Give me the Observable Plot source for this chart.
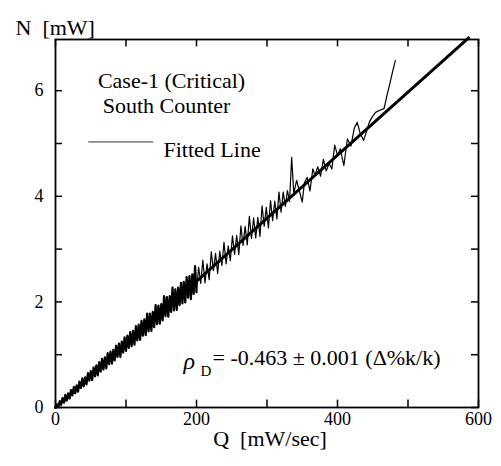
<!DOCTYPE html>
<html>
<head>
<meta charset="utf-8">
<script src="https://cdn.jsdelivr.net/npm/d3@7"></script>
<script src="https://cdn.jsdelivr.net/npm/@observablehq/plot@0.6"></script>
<style>
  html, body { margin: 0; padding: 0; background: #fff; }
  #chart svg { display: block; font-family: "Liberation Serif", "Times New Roman", serif !important; }
  #chart svg text { font-family: "Liberation Serif", "Times New Roman", serif !important; fill: #000; }
</style>
</head>
<body>
<div id="chart"></div>
<script>
// Measured N vs Q samples [Q (mW/sec), N (mW)]
const samples = [
  [0,0.00],[2,0.06],[4,0.01],[6,0.12],[8,0.05],[10,0.18],[12,0.09],[14,0.24],[16,0.13],[18,0.27],
  [20,0.17],[22,0.33],[24,0.23],[26,0.39],[28,0.27],[30,0.42],[32,0.30],[34,0.49],[36,0.37],[38,0.55],
  [40,0.40],[42,0.57],[44,0.44],[46,0.65],[48,0.51],[50,0.69],[52,0.52],[54,0.76],[56,0.59],[58,0.80],
  [60,0.61],[62,0.86],[64,0.68],[66,0.92],[68,0.72],[70,0.95],[72,0.74],[74,1.03],[76,0.82],[78,1.06],
  [80,0.83],[82,1.09],[84,0.89],[86,1.17],[88,0.96],[90,1.21],[92,0.96],[94,1.25],[96,1.04],[98,1.33],
  [100,1.07],[102,1.36],[104,1.13],[106,1.43],[108,1.16],[110,1.45],[112,1.19],[114,1.54],[116,1.27],[118,1.57],
  [120,1.28],[122,1.64],[124,1.36],[126,1.67],[128,1.37],[130,1.78],[132,1.44],[134,1.78],[136,1.45],[138,1.81],
  [140,1.52],[142,1.94],[144,1.58],[146,1.93],[148,1.59],[150,1.96],[152,1.65],[154,2.11],[156,1.73],[158,2.09],
  [160,1.72],[162,2.11],[164,1.81],[166,2.27],[168,1.84],[170,2.24],[172,1.85],[174,2.27],[176,1.94],[178,2.36],
  [180,1.97],[182,2.38],[184,1.99],[186,2.47],[188,2.08],[190,2.49],[192,2.05],[194,2.52],[196,2.15],[198,2.68],
  [200,2.18],[203,2.66],[206,2.35],[209,2.79],[212,2.36],[215,2.72],[218,2.42],[221,2.95],[224,2.59],[227,2.92],
  [230,2.54],[233,2.96],[236,2.69],[239,3.13],[242,2.72],[245,3.06],[248,2.78],[251,3.25],[254,2.90],[257,3.26],
  [260,2.90],[263,3.44],[266,3.07],[269,3.43],[272,3.08],[275,3.62],[278,3.20],[281,3.59],[284,3.21],[287,3.60],
  [290,3.24],[293,3.82],[296,3.43],[299,3.79],[302,3.40],[305,3.92],[308,3.54],[311,3.91],[314,3.57],[317,4.08],
  [320,3.70],[323,4.08],[326,3.81],[329,4.11],[332,3.90],[335,4.74],[338,4.05],[342,4.30],[346,4.10],[350,3.89],
  [353,4.25],[357,4.36],[361,4.10],[365,4.52],[368,4.40],[372,4.56],[376,4.38],[380,4.70],[384,4.48],[388,4.62],
  [392,4.52],[396,4.97],[400,4.78],[404,4.90],[409,4.58],[414,5.09],[419,4.95],[424,5.30],[428,5.40],[432,5.20],
  [437,5.06],[441,5.22],[445,5.40],[449,5.50],[454,5.59],[460,5.63],[466,5.66],[470,5.90],[474,6.12],[478,6.35],
  [482,6.57]
];
// Fitted line end points
const fitQ = [0, 586];
const fitN = [0, 7.0];
// Axis ticks
const xTicks = [0, 100, 200, 300, 400, 500, 600];
const xLabels = [0, 200, 400, 600];
const yTicks = [0, 1, 2, 3, 4, 5, 6];
const yLabels = [0, 2, 4, 6];
const xMax = 600, yMax = 6.97;
// Legend sample line (data units)
const legendQ = [47, 138];
const legendN = 5.03;
// Q where the dense (thick) part of the trace ends
const denseEnd = 200;

const data = samples.map(([q, n]) => ({q, n}));
const dense = data.filter(d => d.q <= denseEnd);
const sparse = data.filter(d => d.q >= denseEnd);
const fit = fitQ.map((q, i) => ({q, n: fitN[i]}));
const legend = legendQ.map(q => ({q, n: legendN}));

const serif = "Liberation Serif";
const tickLenY = 0.14;  // tick length in N units (~7px)
const tickLenX = 10;    // tick length in Q units (~7px)

const chart = Plot.plot({
  width: 501,
  height: 466,
  marginLeft: 55,
  marginRight: 23,
  marginTop: 39,
  marginBottom: 59,
  style: {fontFamily: serif, fontSize: "18px", color: "black", background: "white", overflow: "visible"},
  x: {domain: [0, xMax], label: null},
  y: {domain: [0, yMax], label: null},
  marks: [
    Plot.line(dense, {x: "q", y: "n", stroke: "black", strokeWidth: 2.2}),
    Plot.line(sparse, {x: "q", y: "n", stroke: "black", strokeWidth: 1.2}),
    Plot.line(fit, {x: "q", y: "n", stroke: "black", strokeWidth: 3}),
    Plot.line(legend, {x: "q", y: "n", stroke: "#333", strokeWidth: 1}),
    // inward ticks on all four sides
    Plot.ruleX(xTicks, {x: d => d, y1: 0, y2: tickLenY, stroke: "black", strokeWidth: 1.5}),
    Plot.ruleX(xTicks, {x: d => d, y1: yMax - tickLenY, y2: yMax, stroke: "black", strokeWidth: 1.5}),
    Plot.ruleY(yTicks, {y: d => d, x1: 0, x2: tickLenX, stroke: "black", strokeWidth: 1.5}),
    Plot.ruleY(yTicks, {y: d => d, x1: xMax - tickLenX, x2: xMax, stroke: "black", strokeWidth: 1.5}),
    Plot.frame({stroke: "black", strokeWidth: 1.8}),
    Plot.axisX(xLabels, {anchor: "bottom", tickSize: 0, tickPadding: 5, fontSize: 18, fontFamily: serif, tickFormat: d => String(d), label: null}),
    Plot.axisY(yLabels, {anchor: "left", tickSize: 0, tickPadding: 12, fontSize: 18, fontFamily: serif, tickFormat: d => String(d), label: null}),
    // annotations
    Plot.text(["N\u00a0 [mW]"], {frameAnchor: "top-left", dx: -40, dy: -20, textAnchor: "start", fontSize: 22, fontFamily: serif}),
    Plot.text(["Q\u00a0 [mW/sec]"], {frameAnchor: "bottom", dx: 3, dy: 38, fontSize: 22, fontFamily: serif}),
    Plot.text(["Case-1 (Critical)"], {frameAnchor: "top-left", dx: 116, dy: 33, textAnchor: "middle", fontSize: 22, fontFamily: serif}),
    Plot.text(["South Counter"], {frameAnchor: "top-left", dx: 111, dy: 58, textAnchor: "middle", fontSize: 22, fontFamily: serif}),
    Plot.text(["Fitted Line"], {frameAnchor: "top-left", dx: 108, dy: 102, textAnchor: "start", fontSize: 22, fontFamily: serif}),
    Plot.text(["\u03c1"], {frameAnchor: "top-left", dx: 128, dy: 312, textAnchor: "start", fontSize: 24, fontStyle: "italic", fontFamily: serif}),
    Plot.text(["D"], {frameAnchor: "top-left", dx: 145, dy: 326, textAnchor: "start", fontSize: 15, fontFamily: serif}),
    Plot.text(["= -0.463 \u00b1 0.001 (\u0394%k/k)"], {frameAnchor: "top-left", dx: 157, dy: 310, textAnchor: "start", fontSize: 22, fontFamily: serif})
  ]
});

document.getElementById("chart").appendChild(chart);
</script>
</body>
</html>
